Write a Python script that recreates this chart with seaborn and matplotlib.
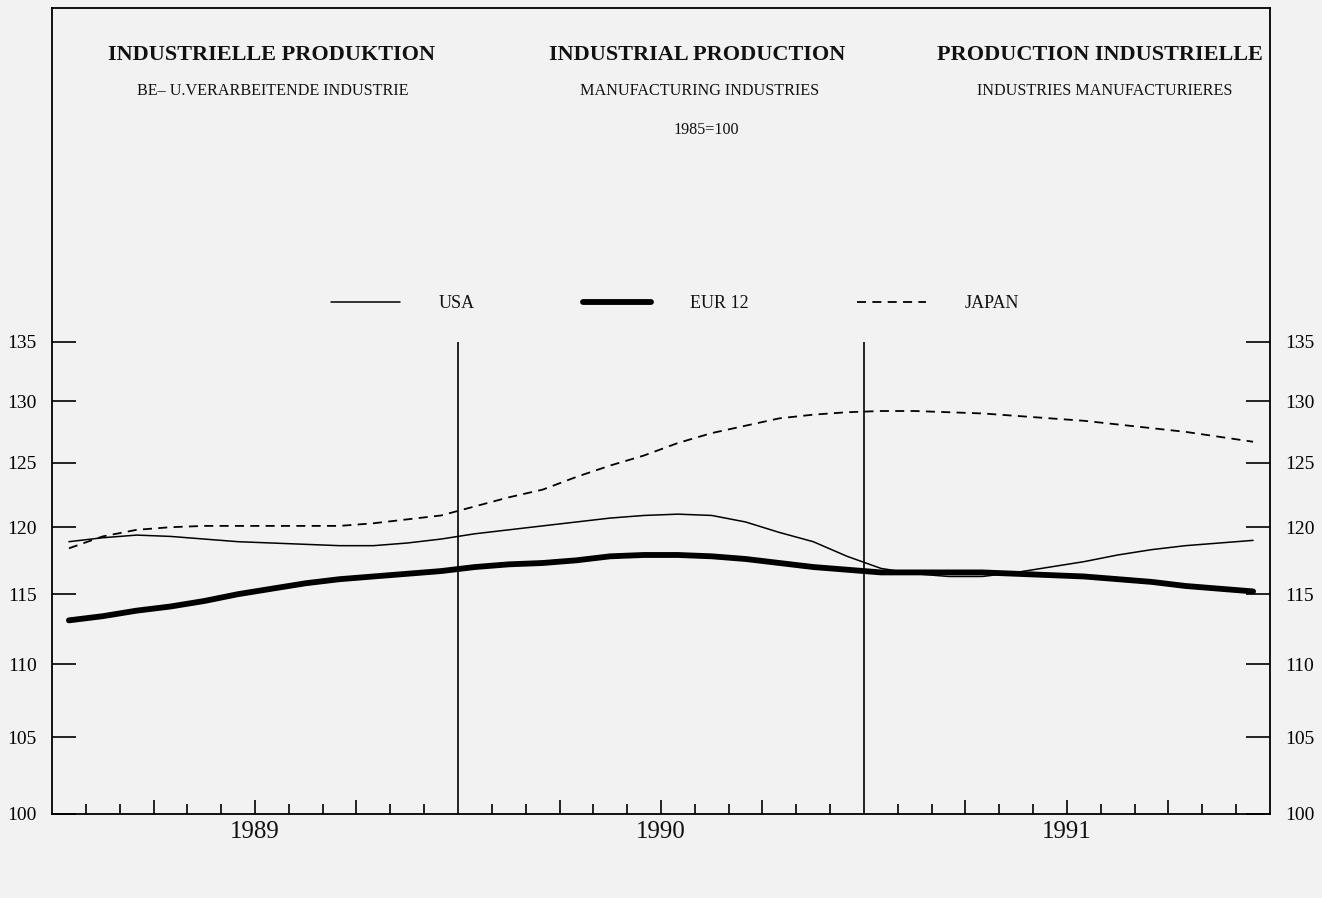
import numpy as np
import pandas as pd
import matplotlib
matplotlib.use("Agg")
import matplotlib.pyplot as plt
import matplotlib.transforms as mtransforms
from matplotlib.ticker import FixedLocator, NullFormatter, NullLocator
import seaborn as sns

# ---------------- data (monthly index, 1985=100) ----------------
years = ["1989", "1990", "1991"]
month_index = list(range(36))  # Jan 1989 .. Dec 1991

usa = [118.9, 119.2, 119.4, 119.3, 119.1, 118.9, 118.8, 118.7, 118.6, 118.6, 118.8, 119.1,
       119.5, 119.8, 120.1, 120.4, 120.7, 120.9, 121.0, 120.9, 120.4, 119.6, 118.9, 117.8,
       116.9, 116.5, 116.3, 116.3, 116.6, 117.0, 117.4, 117.9, 118.3, 118.6, 118.8, 119.0]
eur12 = [113.1, 113.4, 113.8, 114.1, 114.5, 115.0, 115.4, 115.8, 116.1, 116.3, 116.5, 116.7,
         117.0, 117.2, 117.3, 117.5, 117.8, 117.9, 117.9, 117.8, 117.6, 117.3, 117.0, 116.8,
         116.6, 116.6, 116.6, 116.6, 116.5, 116.4, 116.3, 116.1, 115.9, 115.6, 115.4, 115.2]
japan = [118.4, 119.3, 119.8, 120.0, 120.1, 120.1, 120.1, 120.1, 120.1, 120.3, 120.6, 120.9,
         121.6, 122.3, 122.9, 123.9, 124.8, 125.6, 126.6, 127.4, 128.0, 128.6, 128.9, 129.1,
         129.2, 129.2, 129.1, 129.0, 128.8, 128.6, 128.4, 128.1, 127.8, 127.5, 127.1, 126.7]

y_ticks = [100, 105, 110, 115, 120, 125, 130, 135]
series_names = ["USA", "EUR 12", "JAPAN"]

titles_main = ["INDUSTRIELLE PRODUKTION", "INDUSTRIAL PRODUCTION", "PRODUCTION INDUSTRIELLE"]
titles_sub = ["BE\u2013 U.VERARBEITENDE INDUSTRIE", "MANUFACTURING INDUSTRIES",
              "INDUSTRIES MANUFACTURIERES"]
base_note = "1985=100"

# ---------------- frame ----------------
df = pd.DataFrame({
    "month": np.array(month_index) + 0.5,
    "USA": usa, "EUR 12": eur12, "JAPAN": japan,
})

sns.set_theme(style="white")
plt.rcParams["font.family"] = ["Liberation Serif", "DejaVu Serif"]

W, H = 1322, 898
fig = plt.figure(figsize=(W / 100, H / 100), dpi=100)
bg = "#f2f2f2"
fig.patch.set_facecolor(bg)

L, R, B, T = 52, 1270, 814, 8
ax = fig.add_axes([L / W, 1 - B / H, (R - L) / W, (B - T) / H])
ax.set_facecolor(bg)

ax.set_yscale("log")
ytop = 100 * np.exp((B - T) / 1573.0)
ax.set_ylim(100, ytop)
ax.set_xlim(0, 36)

sns.lineplot(data=df, x="month", y="USA", ax=ax, color="black", lw=1.1, label="USA")
sns.lineplot(data=df, x="month", y="EUR 12", ax=ax, color="black", lw=4.2,
             solid_capstyle="round", label="EUR 12")
sns.lineplot(data=df, x="month", y="JAPAN", ax=ax, color="black", lw=1.3,
             label="JAPAN")
ax.lines[-1].set_linestyle((0, (5, 3.5)))

# year separators
ax.vlines([12, 24], 100, 135, color="black", lw=1.2)

for s in ax.spines.values():
    s.set_color("black")
    s.set_linewidth(1.3)
    s.set_visible(True)

# y ticks both sides
ax.yaxis.set_major_locator(FixedLocator(y_ticks))
ax.yaxis.set_minor_locator(NullLocator())
ax.set_yticklabels([str(v) for v in y_ticks])
ax.tick_params(axis="y", which="major", direction="in", length=17, width=1.2,
               left=True, right=True, labelleft=True, labelright=True,
               labelsize=14, pad=11, colors="black")

# x ticks: quarterly (major, taller) and monthly (minor)
quarter_ticks = [3, 6, 9, 15, 18, 21, 27, 30, 33]
month_ticks = [m for m in range(1, 36) if m not in (12, 24) and m not in quarter_ticks]
ax.xaxis.set_major_locator(FixedLocator(quarter_ticks))
ax.xaxis.set_minor_locator(FixedLocator(month_ticks))
ax.xaxis.set_major_formatter(NullFormatter())
ax.tick_params(axis="x", which="major", direction="in", length=10, width=1.2,
               bottom=True, top=False, colors="black")
ax.tick_params(axis="x", which="minor", direction="in", length=7, width=1.2,
               bottom=True, top=False, colors="black")
ax.set_xlabel("")
ax.set_ylabel("")

trans = mtransforms.blended_transform_factory(ax.transData, ax.transAxes)
for i, yr in enumerate(years):
    ax.text(12 * i + 6, -0.0225, yr, transform=trans, ha="center", va="center",
            fontsize=18, color="#111111")

# titles
fx = [271, 697, 1100]
sx = [273, 700, 1105]
for x, t in zip(fx, titles_main):
    fig.text(x / W, 1 - 55 / H, t, ha="center", va="center", fontsize=16,
             fontweight="bold", color="#111111")
for x, t in zip(sx, titles_sub):
    fig.text(x / W, 1 - 91 / H, t, ha="center", va="center", fontsize=11.6,
             color="#111111")
fig.text(706 / W, 1 - 130 / H, base_note, ha="center", va="center", fontsize=11.6,
         color="#111111")

# legend
leg = ax.legend(loc="center", bbox_to_anchor=(675 / W, 1 - 304 / H),
                bbox_transform=fig.transFigure, ncol=3, frameon=False,
                handlelength=3.8, handletextpad=2.15, columnspacing=6.0,
                fontsize=13)
for t in leg.get_texts():
    t.set_color("#111111")

fig.savefig("out.png", dpi=100, facecolor=bg)
